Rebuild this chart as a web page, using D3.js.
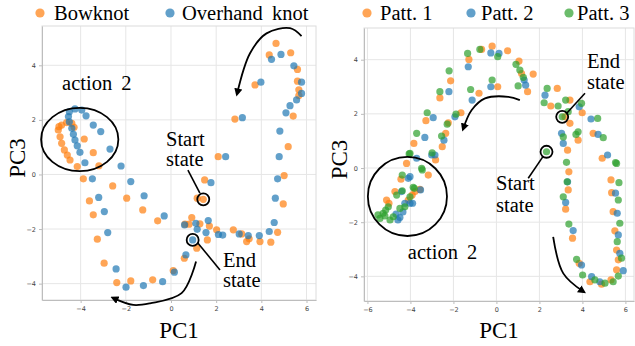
<!DOCTYPE html>
<html>
<head>
<meta charset="utf-8">
<script src="https://cdn.jsdelivr.net/npm/d3@7"></script>
<style>
  body { margin: 0; background: #fff; }
  svg { display: block; }
</style>
</head>
<body>
<svg id="chart" width="635" height="346"></svg>
<script>
// ---- left panel data (PC1, PC3) ----
const bowknotPC1 = [4.65, 4.35, 5.3, 5.6, 5.6, 5.66, 5.66, 5.41, 5.19, 5.01, 4.97, 4.72, 3.94, 4.42, 3.46, 3.35, 3.13, 2.76, 2.02, 1.7,
    1.28, 1.61, 0.92, 0.62, 0.8, 1.14, 0.59, 0.1, -0.81, -1.78, -2.4, -2.96, -3.26, -3.44, -3.61, -3.88, -2.58, -1.96, -1.25, -0.59,
    1.49, 1.16, 1.43, 2.83, 3.72, 2.09, -3.19, -4.99, -4.96, -4.84, -4.62, -4.39, -4.29, -4.91, -4.84, -4.72, -4.59, -4.47, -4.15, -3.84, -3.44];
const bowknotPC3 = [4.8, 4.38, 4.46, 3.85, 3.42, 3.1, 2.89, 2.14, 1.02, -0.04, -1.08, -2.12, -2.46, -2.48, -2.36, -2.46, -2.18, -2.03, -2.03, -1.89,
    -1.81, -2.4, -1.58, -1.82, -1.82, -2.7, -3.07, -3.52, -3.86, -3.9, -3.96, -3.25, -2.37, -1.48, -0.97, -0.16, -0.42, -0.87, -1.3, -1.7,
    -0.2, -0.87, -0.91, 2.03, 3.28, 0.65, 0.32, 1.63, 1.75, 1.81, 1.9, 1.87, 1.73, 1.38, 1.14, 0.9, 0.71, 0.53, 0.29, 1.3, 0.8];
const overhandPC1 = [4.45, 4.87, 5.44, 5.78, 5.78, 5.56, 5.27, 5.09, 4.82, 4.79, 4.72, 4.62, 4.57, 4.35, 3.91, 3.42, 3.02, 2.29, 2.1, 1.65,
    1.55, 1.16, 0.6, 1.1, 0.96, 0.66, 0.15, -0.37, -1.22, -1.99, -2.43, -2.8, -2.95, -3.2, -3.48, -1.78, -1.19, -0.3, 1.77, 3.16,
    3.98, 2.42, -2.21, -4.5, -4.25, -3.95, -3.76, -3.44, -3.11, -2.7, -4.54, -4.5, -4.39, -4.32, -4.25, -4.15, -4.03, -3.81];
const overhandPC3 = [4.22, 4.4, 3.98, 3.38, 2.97, 2.73, 2.52, 2.26, 1.59, 0.65, -0.16, -0.87, -1.76, -2.09, -2.24, -2.24, -2.18, -2.22, -2.2, -1.69,
    -2.13, -2.01, -1.85, -1.79, -2.4, -2.95, -3.58, -3.93, -4.07, -4.13, -3.46, -2.13, -1.36, -0.84, -0.16, -0.26, -0.78, -1.52, -0.3, 2.08,
    3.38, 0.65, 0.31, 2.3, 2.4, 2.36, 2.15, 1.81, 1.57, 0.93, 2.12, 1.93, 1.69, 1.47, 1.26, 1.05, 0.81, 0.43];

// ---- right panel data (PC1, PC3) ----
const patt1PC1 = [-1.28, -0.69, -0.2, 0.52, 1.05, 1.17, 1.45, 1.71, 0.06, -0.81, -2.13, -2.63, -3.28, -3.84, -4.18, -2.36, -2.52, -2.83, -2.24, -1.65,
    2.83, 2.53, 3.42, 3.99, 4.5, 4.92, 3.19, 3.42, 3.31, 3.37, 3.8, 3.34, 3.22, 3.54, 3.85, 4.35, 4.89, 5.33, 5.59, 5.67,
    5.59, 5.51, 5.43, 5.36, 5.33, -4.44, -4.72, -3.92, -3.56, -3.17, -5.0, -3.79, -4.1, -5.11];
const patt1PC3 = [4.01, 4.38, 4.5, 4.33, 3.95, 3.49, 2.82, 3.47, 3.0, 2.76, 3.22, 2.59, 1.75, 0.91, 0.17, 1.28, 0.79, 0.3, 1.67, 2.04,
    2.94, 2.29, 2.51, 2.04, 1.28, 0.36, 1.89, 1.65, 0.66, -0.14, 1.03, -0.81, -1.52, -2.59, -3.52, -4.2, -4.29, -4.13, -3.76, -3.39,
    -3.03, -2.32, -1.61, -0.91, -0.44, -0.41, -0.87, -1.0, -0.79, -0.26, -1.3, -0.87, -1.18, -1.18];
const patt2PC1 = [-1.31, -0.26, 0.12, 1.29, 1.36, -0.26, -1.13, -2.21, -2.94, -3.33, -3.71, -2.44, -2.86, -1.93, 2.26, 3.85, 4.4, 4.73, 5.17, 3.03,
    3.11, 3.31, 3.22, 3.57, 3.96, 4.43, 4.81, 5.9, 5.74, 5.67, 5.62, 5.54, -4.1, -4.02, -4.49, -4.41, -3.53, -3.01, -4.02, -4.26,
    -3.9, -4.67, -4.35, -4.58];
const patt2PC3 = [3.74, 4.25, 4.23, 3.25, 3.06, 3.0, 2.51, 2.82, 1.86, 1.13, 0.36, 1.03, 0.48, 1.89, 2.69, 2.26, 1.81, 1.24, 0.48, 1.28,
    0.91, -0.51, -1.27, -2.31, -3.58, -4.01, -4.2, -3.79, -3.15, -2.47, -1.67, -0.93, -0.38, -1.3, -1.83, -0.87, -0.81, 0.48, -0.32, -1.3,
    -1.3, -1.7, -1.62, -1.92];
const patt3PC1 = [-1.34, -0.77, 0.06, 0.91, 1.09, 1.25, 1.01, -0.2, -1.2, -2.2, -2.63, -3.22, -3.71, -4.06, -2.55, -2.99, -2.29, -1.88, 2.36, 2.22,
    2.87, 3.22, 3.96, 4.71, 4.97, 5.54, 3.06, 3.34, 3.11, 3.26, 3.7, 3.8, 2.33, 3.29, 3.11, 3.37, 3.73, 4.01, 4.58, 5.05,
    5.43, 5.67, 5.82, 5.62, 5.74, 5.67, 5.7, 5.59, -4.38, -3.45, -4.38, -3.82, -4.26, -5.15, -5.42, -4.02, -3.48, -4.64, -3.87, -5.27,
    -5.03, -4.49, -4.02, -4.8, -5.19, -5.51, -4.95];
const patt3PC3 = [4.23, 4.38, 4.11, 3.83, 3.62, 3.35, 3.03, 3.25, 2.9, 3.59, 2.82, 2.04, 1.28, 0.52, 1.18, 0.56, 1.62, 1.99, 2.94, 2.41,
    2.29, 2.51, 2.39, 1.83, 1.12, 0.2, 1.89, 2.08, 1.15, 0.21, 1.24, 1.34, 0.6, -0.51, -1.06, -2.07, -3.37, -3.95, -4.13, -4.25,
    -4.2, -3.99, -3.33, -2.72, -2.04, -1.18, -0.54, 0.17, -0.26, -0.07, -0.84, -0.75, -1.43, -1.55, -1.86, 0.54, -0.01, -1.0, -0.71, -1.67,
    -1.43, -1.49, -1.06, -1.8, -1.77, -1.73, -1.92];

const xTicksLeft = [-4, -2, 0, 2, 4, 6];
const xTicksRight = [-6, -4, -2, 0, 2, 4, 6];
const yTicks = [-4, -2, 0, 2, 4];

const ORANGE = '#ff7f0e', BLUE = '#1f77b4', GREEN = '#2ca02c';
const SERIF = '"Liberation Serif", "Times New Roman", serif';

const zip = (xs, ys) => xs.map((x, i) => ({ x: x, y: ys[i] }));

const svg = d3.select('#chart');

svg.append('defs').append('marker')
    .attr('id', 'head')
    .attr('viewBox', '0 0 10 10')
    .attr('refX', 6).attr('refY', 5)
    .attr('markerWidth', 4.5).attr('markerHeight', 4.5)
    .attr('orient', 'auto')
    .append('path')
    .attr('d', 'M0,0 L10,5 L0,10 z')
    .attr('fill', '#000');

function drawPanel(cfg) {
    const x = d3.scaleLinear().domain(cfg.xDomain).range([cfg.left, cfg.left + cfg.width]);
    const y = d3.scaleLinear().domain(cfg.yDomain).range([cfg.top + cfg.height, cfg.top]);
    const g = svg.append('g');

    // grid
    g.selectAll('.vgrid').data(cfg.xTicks).join('line')
        .attr('x1', d => x(d)).attr('x2', d => x(d))
        .attr('y1', cfg.top).attr('y2', cfg.top + cfg.height)
        .attr('stroke', '#e6e6e6').attr('stroke-width', 1);
    g.selectAll('.hgrid').data(yTicks).join('line')
        .attr('x1', cfg.left).attr('x2', cfg.left + cfg.width)
        .attr('y1', d => y(d)).attr('y2', d => y(d))
        .attr('stroke', '#e6e6e6').attr('stroke-width', 1);

    g.append('rect')
        .attr('x', cfg.left).attr('y', cfg.top)
        .attr('width', cfg.width).attr('height', cfg.height)
        .attr('fill', 'none').attr('stroke', '#dcdcdc');

    // axes
    const xAxis = g.append('g')
        .attr('transform', `translate(0,${cfg.top + cfg.height})`)
        .call(d3.axisBottom(x).tickValues(cfg.xTicks).tickSize(3).tickSizeOuter(0));
    const yAxis = g.append('g')
        .attr('transform', `translate(${cfg.left},0)`)
        .call(d3.axisLeft(y).tickValues(yTicks).tickSize(3).tickSizeOuter(0));
    [xAxis, yAxis].forEach(a => {
        a.select('.domain').attr('stroke', '#bdbdbd');
        a.selectAll('.tick line').attr('stroke', '#bdbdbd');
        a.selectAll('.tick text')
            .attr('fill', '#444')
            .style('font-family', '"DejaVu Sans", sans-serif')
            .style('font-size', '6.5px');
    });

    // points
    cfg.series.forEach(s => {
        g.append('g').selectAll('circle')
            .data(zip(s.xs, s.ys))
            .join('circle')
            .attr('cx', d => x(d.x))
            .attr('cy', d => y(d.y))
            .attr('r', 3.6)
            .attr('fill', s.color)
            .attr('fill-opacity', 0.7);
    });

    // axis titles
    svg.append('text')
        .attr('x', cfg.left + cfg.width / 2).attr('y', 338)
        .attr('text-anchor', 'middle')
        .style('font-family', SERIF).style('font-size', '23px')
        .text('PC1');
    svg.append('text')
        .attr('transform', `translate(${cfg.yLabelX},${cfg.top + cfg.height / 2 - 5}) rotate(-90)`)
        .attr('text-anchor', 'middle')
        .style('font-family', SERIF).style('font-size', '23px')
        .text('PC3');

    // legend
    cfg.series.forEach(s => {
        svg.append('circle')
            .attr('cx', s.legendX).attr('cy', 13).attr('r', 4.6)
            .attr('fill', s.color).attr('fill-opacity', 0.7);
        svg.append('text')
            .attr('x', s.labelX).attr('y', 19.5)
            .style('font-family', SERIF).style('font-size', '20.5px')
            .style('word-spacing', cfg.wordSpace)
            .text(s.name);
    });

    // annotations
    const a = cfg.notes;
    const ann = svg.append('g').attr('fill', 'none').attr('stroke', '#000');
    ann.append('ellipse')
        .attr('cx', x(a.ring.x)).attr('cy', y(a.ring.y))
        .attr('rx', x(a.ring.x + a.ring.rx) - x(a.ring.x))
        .attr('ry', y(a.ring.y - a.ring.ry) - y(a.ring.y))
        .attr('stroke-width', 1.8);
    a.marks.forEach(m => {
        ann.append('circle')
            .attr('cx', x(m.x)).attr('cy', y(m.y)).attr('r', 6)
            .attr('stroke-width', 1.8);
        ann.append('line')
            .attr('x1', x(m.line[0][0])).attr('y1', y(m.line[0][1]))
            .attr('x2', x(m.line[1][0])).attr('y2', y(m.line[1][1]))
            .attr('stroke-width', 1.6);
    });
    const curve = d3.line()
        .x(d => x(d[0])).y(d => y(d[1]))
        .curve(d3.curveCatmullRom.alpha(0.5));
    a.arrows.forEach(pts => {
        ann.append('path')
            .attr('d', curve(pts))
            .attr('stroke-width', 1.8)
            .attr('marker-end', 'url(#head)');
    });
    a.texts.forEach(t => {
        svg.append('text')
            .attr('x', x(t.x)).attr('y', y(t.y))
            .style('font-family', SERIF).style('font-size', '20.5px')
            .style('word-spacing', '4px')
            .text(t.text);
    });
}

drawPanel({
    left: 42, top: 26, width: 274, height: 274,
    xDomain: [-5.71, 6.42], yDomain: [-4.6, 5.44],
    xTicks: xTicksLeft, yLabelX: 25, wordSpace: '4px',
    series: [
        { name: 'Bowknot', xs: bowknotPC1, ys: bowknotPC3, color: ORANGE, legendX: 40, labelX: 54 },
        { name: 'Overhand knot', xs: overhandPC1, ys: overhandPC3, color: BLUE, legendX: 170, labelX: 182 }
    ],
    notes: {
        ring: { x: -4.04, y: 1.28, rx: 1.71, ry: 1.16 },
        marks: [
            { x: 1.43, y: -0.91, line: [[0.75, 0.16], [1.28, -0.68]] },
            { x: 0.96, y: -2.4, line: [[1.18, -2.5], [2.17, -3.5]] }
        ],
        arrows: [
            [[5.78, 5.07], [5.27, 5.36], [4.23, 5.17], [3.5, 4.44], [2.93, 2.97]],
            [[1.11, -3.19], [0.47, -4.35], [-0.93, -4.72], [-1.67, -4.78], [-2.55, -4.53]]
        ],
        texts: [
            { text: 'action 2', x: -4.82, y: 3.1 },
            { text: 'Start', x: -0.22, y: 1.04 },
            { text: 'state', x: -0.22, y: 0.31 },
            { text: 'End', x: 2.3, y: -3.38 },
            { text: 'state', x: 2.3, y: -4.12 }
        ]
    }
});

drawPanel({
    left: 364, top: 28, width: 270, height: 273,
    xDomain: [-6.16, 6.4], yDomain: [-4.91, 5.17],
    xTicks: xTicksRight, yLabelX: 347, wordSpace: '0px',
    series: [
        { name: 'Patt. 1', xs: patt1PC1, ys: patt1PC3, color: ORANGE, legendX: 367, labelX: 380 },
        { name: 'Patt. 2', xs: patt2PC1, ys: patt2PC3, color: BLUE, legendX: 471, labelX: 481 },
        { name: 'Patt. 3', xs: patt3PC1, ys: patt3PC3, color: GREEN, legendX: 569, labelX: 577 }
    ],
    notes: {
        ring: { x: -4.14, y: -1.05, rx: 1.84, ry: 1.46 },
        marks: [
            { x: 2.33, y: 0.6, line: [[2.18, 0.44], [1.48, -0.38]] },
            { x: 3.06, y: 1.89, line: [[3.27, 2.02], [4.12, 2.76]] }
        ],
        arrows: [
            [[1.09, 2.51], [0.55, 2.63], [-0.53, 2.57], [-1.15, 2.14], [-1.54, 1.46]],
            [[2.64, -2.54], [3.11, -3.89], [4.04, -4.56]]
        ],
        texts: [
            { text: 'action 2', x: -4.12, y: -3.36 },
            { text: 'Start', x: -0.02, y: -0.81 },
            { text: 'state', x: -0.02, y: -1.62 },
            { text: 'End', x: 4.21, y: 3.69 },
            { text: 'state', x: 4.21, y: 2.92 }
        ]
    }
});
</script>
</body>
</html>
